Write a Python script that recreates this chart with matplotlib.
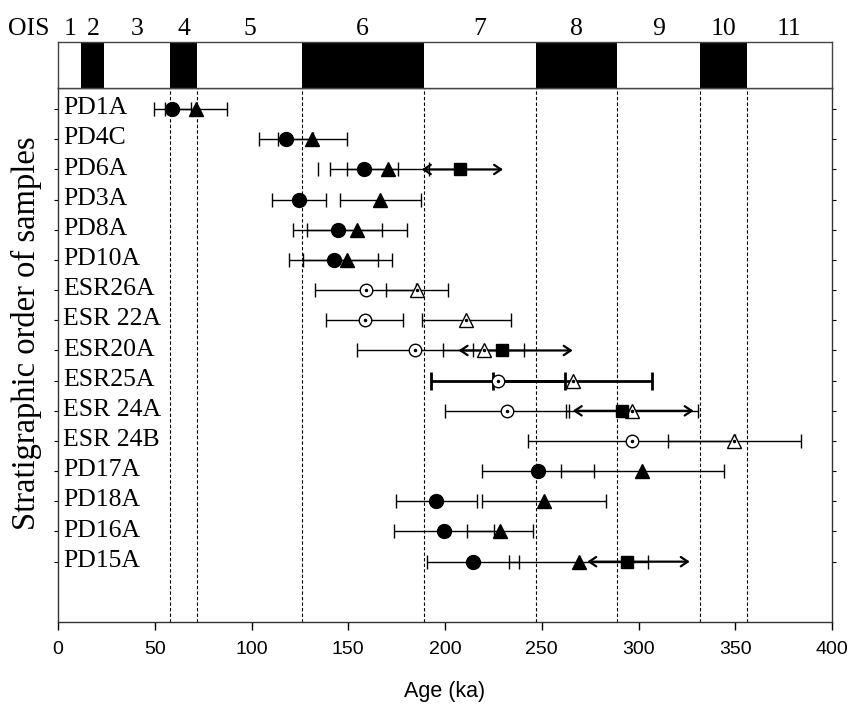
import matplotlib
matplotlib.use("Agg")
import matplotlib.pyplot as plt
import numpy as np

# ---------------- data ----------------
samples = ["PD1A", "PD4C", "PD6A", "PD3A", "PD8A", "PD10A", "ESR26A", "ESR 22A",
           "ESR20A", "ESR25A", "ESR 24A", "ESR 24B", "PD17A", "PD18A", "PD16A", "PD15A"]

# circle ages (ka) and 1-sigma errors
circle_age = [59, 118, 158, 124.5, 144.5, 142.5, 159, 158.5, 184.5, 227.5, 232, 296.5, 248, 195.5, 199.5, 214.5]
circle_err = [9.5, 14, 17.5, 14, 23, 23, 26, 20, 30, 34.5, 32, 53.5, 29, 21, 26, 24]

# triangle ages (ka) and errors
tri_age = [71.5, 131.5, 170.5, 166.5, 154.5, 149.5, 185.5, 211, 220, 266, 296.5, 349.5, 302, 251, 228.5, 269]
tri_err = [16, 18, 21, 21, 26, 23, 16, 23, 21, 41, 34, 34.5, 42, 32, 17, 36]

# square ages with arrow ranges (NaN = no square)
nan = np.nan
sq_age = [nan, nan, 208, nan, nan, nan, nan, nan, 229.5, nan, 291.5, nan, nan, nan, nan, 294]
sq_lo  = [nan, nan, 188, nan, nan, nan, nan, nan, 207, nan, 266, nan, nan, nan, nan, 273.5]
sq_hi  = [nan, nan, 230, nan, nan, nan, nan, nan, 266, nan, 328.5, nan, nan, nan, nan, 326.5]

# stray single tick (PD6A)
stray_tick_age = [134.5]
stray_tick_sample = ["PD6A"]

# OIS stage boundaries (ka), stage labels
ois_bounds = [0, 12, 24, 58, 72, 126, 189, 247, 289, 332, 356, 400]
ois_labels = ["1", "2", "3", "4", "5", "6", "7", "8", "9", "10", "11"]

xticks = [0, 50, 100, 150, 200, 250, 300, 350, 400]

# ---------------- style ----------------
open_marker = [False] * 6 + [True] * 6 + [False] * 4
thick_line = [s == "ESR25A" for s in samples]
SERIF = ["Liberation Serif", "DejaVu Serif"]
SANS = ["Liberation Sans", "DejaVu Sans"]

W, H = 850, 710
fig = plt.figure(figsize=(W / 100, H / 100), dpi=100)
ax = fig.add_axes([58 / W, 1 - 622 / H, 774 / W, 534 / H])
band = fig.add_axes([58 / W, 1 - 88 / H, 774 / W, 46 / H])

# ---- OIS band ----
band.set_xlim(0, 400)
band.set_ylim(0, 1)
for k in range(len(ois_labels)):
    a, b = ois_bounds[k], ois_bounds[k + 1]
    if (k + 1) % 2 == 0:
        band.axvspan(a, b, color="black", lw=0)
    band.text((a + b) / 2, 1.15, ois_labels[k], ha="center", va="baseline",
              fontsize=18.5, family=SERIF, transform=band.get_xaxis_transform(),
              clip_on=False)
band.set_xticks([])
band.set_yticks([])
for sp in band.spines.values():
    sp.set_color("#444444")
    sp.set_linewidth(1)
fig.text(8 / W, 1 - 35 / H, "OIS", ha="left", va="baseline", fontsize=18.5, family=SERIF)

# ---- main axes ----
rows = np.arange(1, len(samples) + 1)
ax.set_xlim(0, 400)
ax.set_ylim(18, 0.3)

for bnd in ois_bounds[3:11]:
    ax.axvline(bnd, color="black", lw=0.8, ls=(0, (3, 2)), zorder=1)

for i, r in enumerate(rows):
    lw = 2.0 if thick_line[i] else 1.0
    cs = 6.5 if thick_line[i] else 4.7
    ax.errorbar(circle_age[i], r, xerr=circle_err[i], fmt="none", ecolor="black",
                elinewidth=lw, capsize=cs, capthick=lw, zorder=2)
    ax.errorbar(tri_age[i], r, xerr=tri_err[i], fmt="none", ecolor="black",
                elinewidth=lw, capsize=cs, capthick=lw, zorder=2)
    if not np.isnan(sq_age[i]):
        ax.annotate("", xy=(sq_hi[i], r), xytext=(sq_lo[i], r),
                    arrowprops=dict(arrowstyle="<->,head_length=0.36,head_width=0.24",
                                    lw=1.6, color="black", shrinkA=0, shrinkB=0,
                                    mutation_scale=14), zorder=3)

for i, r in enumerate(rows):
    if open_marker[i]:
        ax.plot(circle_age[i], r, "o", ms=9, mfc="white", mec="black", mew=1, zorder=4)
        ax.plot(circle_age[i], r, ".", ms=3, color="black", zorder=5)
        ax.plot(tri_age[i], r, "^", ms=10, mfc="white", mec="black", mew=1, zorder=4)
        ax.plot(tri_age[i], r, ".", ms=3, color="black", zorder=5)
    else:
        ax.plot(circle_age[i], r, "o", ms=10, color="black", zorder=4)
        ax.plot(tri_age[i], r, "^", ms=10.5, color="black", zorder=4)
    if not np.isnan(sq_age[i]):
        ax.plot(sq_age[i], r, "s", ms=9, color="black", zorder=6)

for a, s in zip(stray_tick_age, stray_tick_sample):
    ax.plot(a, rows[samples.index(s)], marker="|", ms=9.4, mew=1, color="black", zorder=2)

for s, r in zip(samples, rows):
    ax.text(2.5, r + 0.17, s, ha="left", va="baseline", fontsize=18.5, family=SERIF, zorder=7)

ax.set_yticks(rows)
ax.set_yticklabels([])
ax.tick_params(axis="y", left=True, right=True, direction="out", length=3, width=0.8)
ax.set_xticks(xticks)
ax.set_xticklabels([str(t) for t in xticks], family=SANS, fontsize=14)
ax.tick_params(axis="x", direction="out", length=6, width=1, pad=8)
for sp in ax.spines.values():
    sp.set_color("#333333")
    sp.set_linewidth(1)

fig.text(445 / W, 1 - 691 / H, "Age (ka)", ha="center", va="center", fontsize=15.5, family=SANS)
fig.text(26 / W, 1 - 333 / H, "Stratigraphic order of samples", ha="center", va="center",
         rotation=90, fontsize=23.5, family=SERIF)

fig.savefig("out.png", dpi=100)
